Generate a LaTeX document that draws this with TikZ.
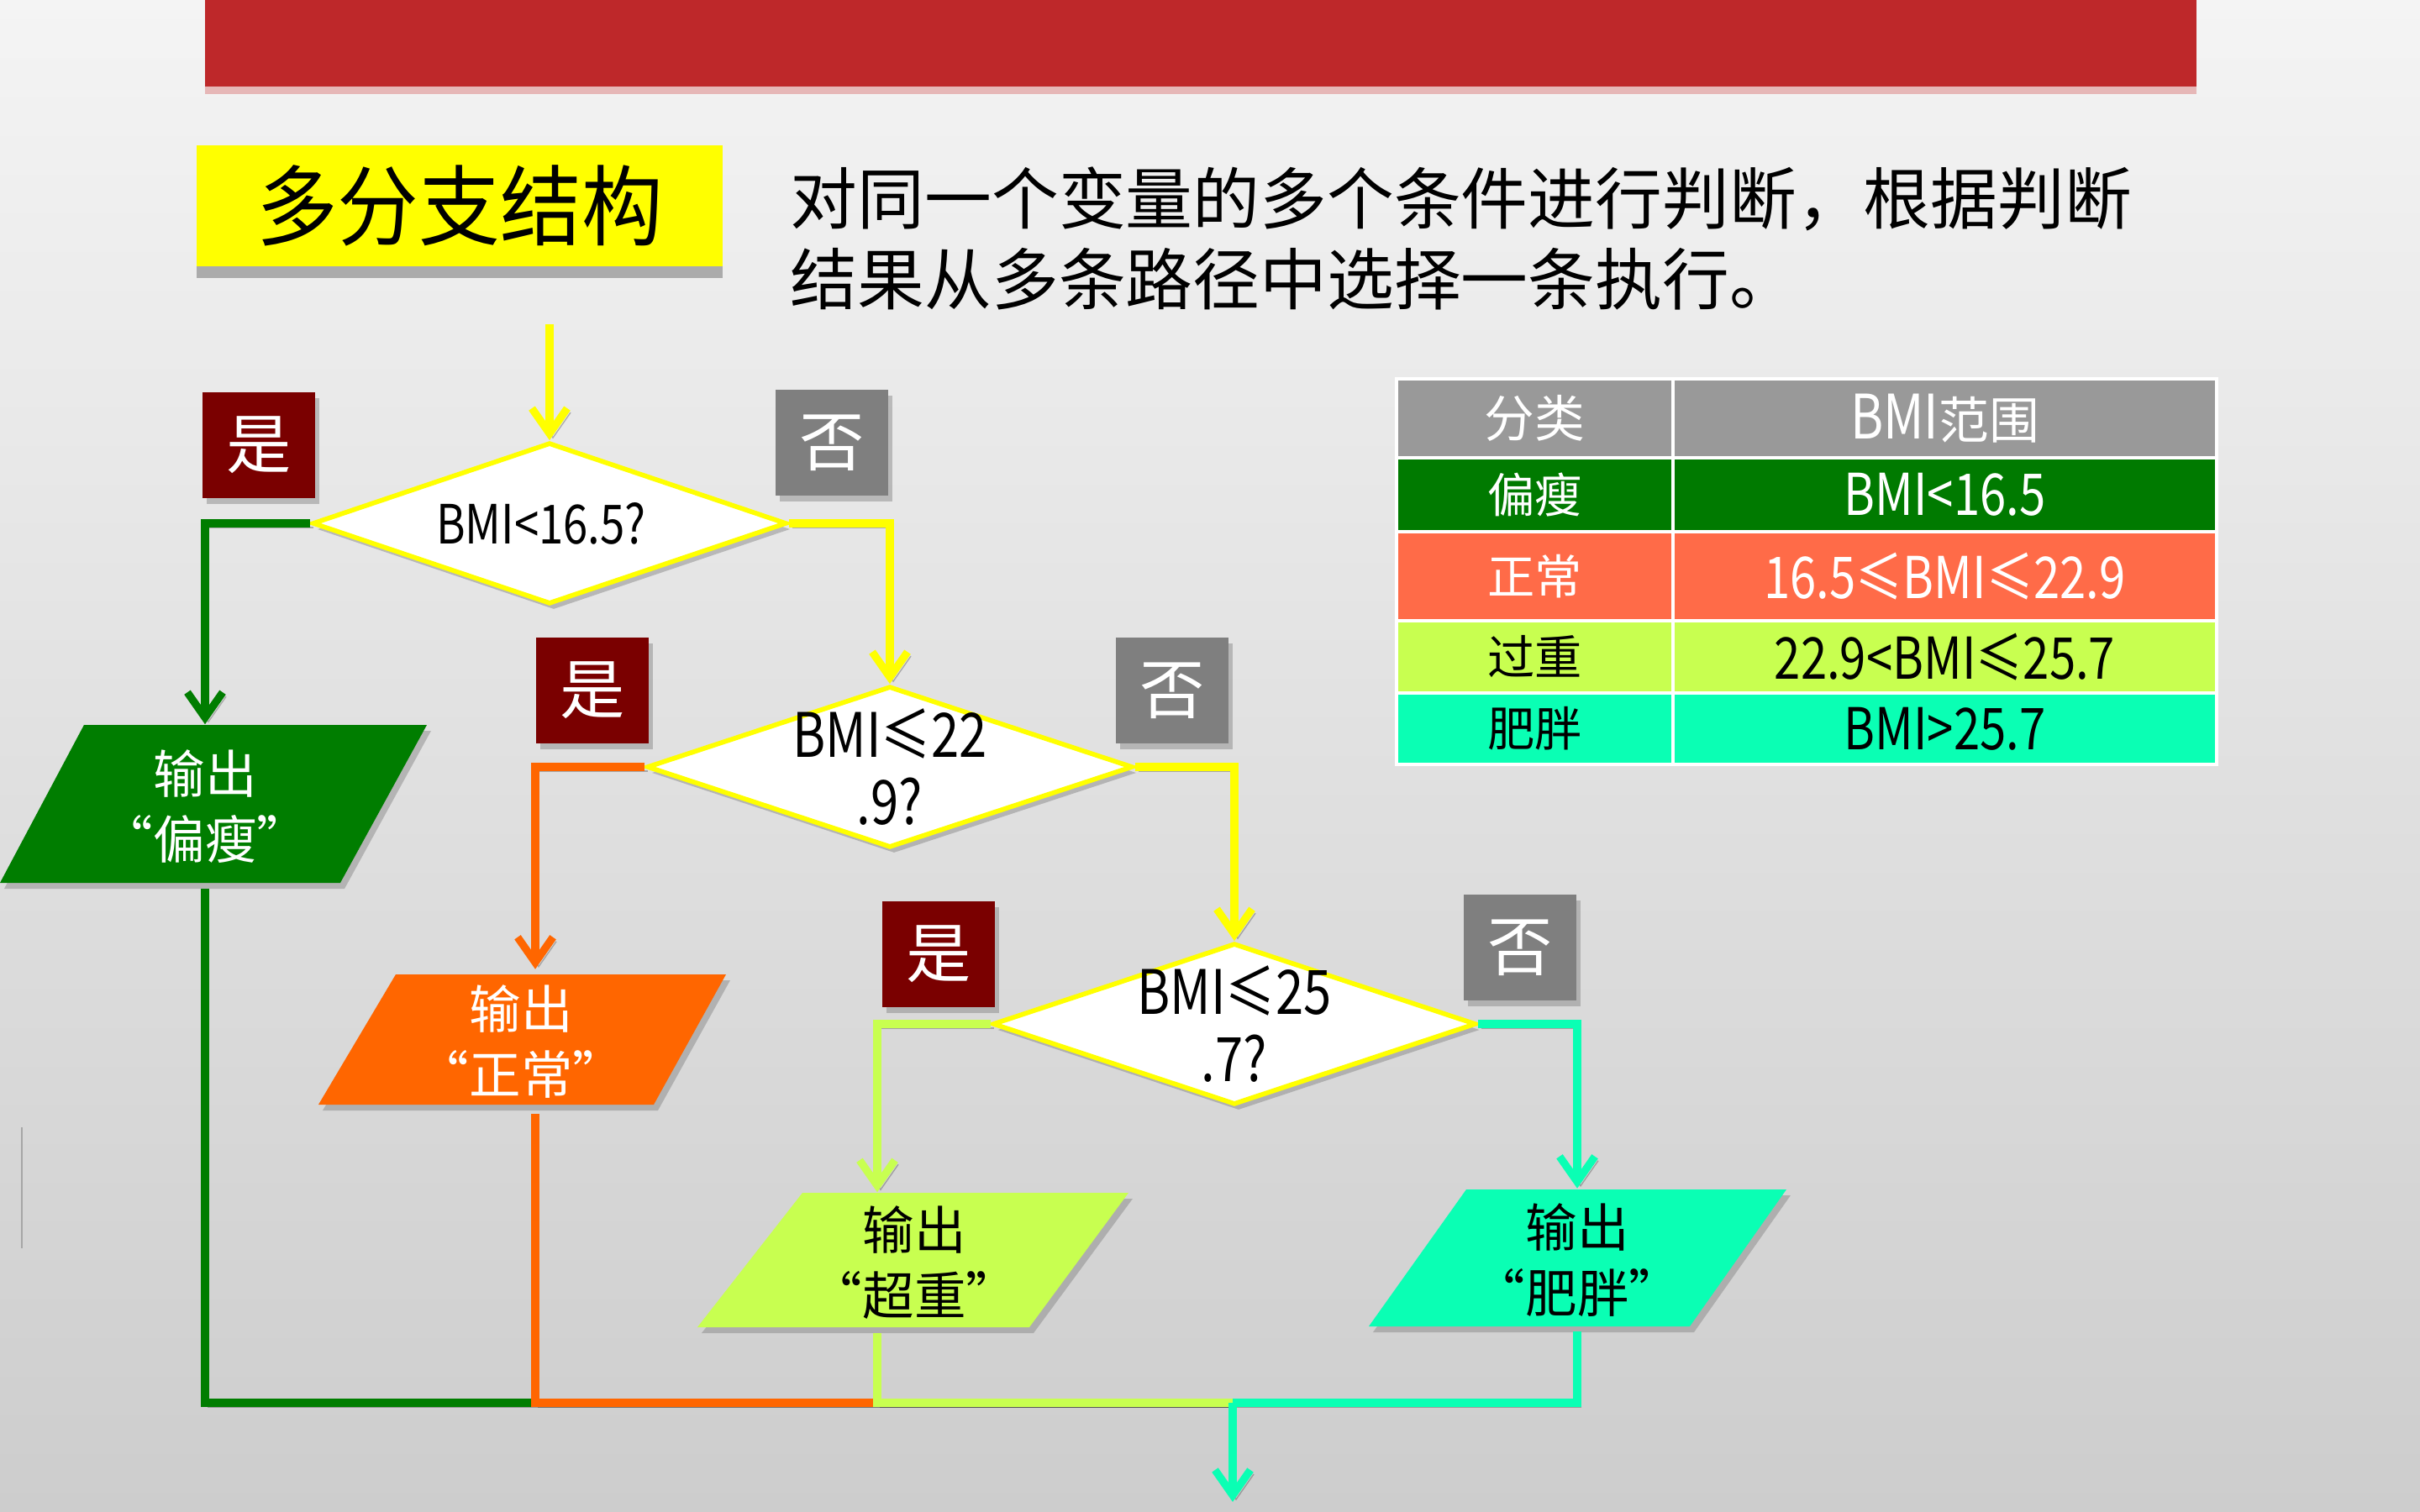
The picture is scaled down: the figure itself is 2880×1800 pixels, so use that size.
\documentclass[tikz,border=0pt]{standalone}
\usepackage{fontspec}
\setmainfont{Noto Sans CJK SC}
\usetikzlibrary{arrows.meta,shapes.geometric,shadows}
\definecolor{rbar}{RGB}{190,40,42}
\definecolor{yl}{RGB}{255,255,0}
\definecolor{grn}{RGB}{0,125,0}
\definecolor{org}{RGB}{255,102,0}
\definecolor{lgr}{RGB}{200,255,80}
\definecolor{aqu}{RGB}{10,255,180}
\definecolor{yesc}{RGB}{122,0,0}
\definecolor{noc}{RGB}{127,127,127}
\definecolor{hdr}{RGB}{153,153,153}
\definecolor{tgrn}{RGB}{0,122,0}
\definecolor{torg}{RGB}{255,107,72}
\definecolor{bgtop}{RGB}{244,244,244}
\definecolor{bgbot}{RGB}{205,205,205}
\newcommand{\tall}[1]{\scalebox{1}[1.22]{#1}}
\begin{document}
\begin{tikzpicture}[x=0.01cm, y=-0.01cm,
  shd/.style={drop shadow={opacity=0.45, shadow xshift=0.05cm, shadow yshift=-0.07cm}},
  conn/.style={line width=2.6pt, preaction={draw=black, opacity=0.25, transform canvas={xshift=0.04cm, yshift=-0.05cm}}},
  arr/.style={-{Straight Barb[length=0.3cm, width=0.42cm]}},
  tag/.style={minimum width=1.34cm, minimum height=1.26cm, inner sep=0pt, text=white, font=\fontsize{22}{26}\selectfont, shd},
  dia/.style={diamond, aspect=3, draw=yl, line width=1.6pt, fill=white, inner sep=0pt, minimum height=1.92cm, shd},
  ptxt/.style={inner sep=0pt, minimum width=2cm, align=center, font=\fontsize{17.5}{22}\selectfont},
  cell/.style={draw=white, line width=1.3pt, inner sep=0pt, font=\fontsize{16}{19}\selectfont},
]
\useasboundingbox (0,0) rectangle (2880,1800);
\shade[top color=bgtop, bottom color=bgbot] (0,0) rectangle (2880,1800);
\draw[gray!70, line width=0.6pt] (26,1342) -- (26,1486);

% red bar
\fill[rbar!45, opacity=0.7] (244,100) rectangle (2614,112);
\fill[rbar] (244,0) rectangle (2614,103);

% title and description
\node[fill=yl, minimum width=6.25cm, minimum height=1.44cm, inner sep=0pt,
      font=\fontsize{27.5}{30}\selectfont,
      drop shadow={opacity=0.6, shadow xshift=0cm, shadow yshift=-0.14cm}] (title) at (547,245) {\scalebox{1}[1.08]{多分支结构}};
\node[anchor=west, align=left, inner sep=0pt, font=\fontsize{22.7}{27.3}\selectfont] (desc) at (940,284)
  {对同一个变量的多个条件进行判断，根据判断\\结果从多条路径中选择一条执行。};

% table
\node[cell, fill=hdr, text=white, minimum width=3.29cm, minimum height=0.94cm, font=\fontsize{17}{20}\selectfont] (h1) at (1826.5,498) {分类};
\node[cell, fill=hdr, text=white, minimum width=6.47cm, minimum height=0.94cm, font=\fontsize{17}{20}\selectfont] (h2) at (2314.5,498) {\tall{BMI}范围};
\node[cell, fill=tgrn, text=white, minimum width=3.29cm, minimum height=0.88cm] (a1) at (1826.5,589) {偏瘦};
\node[cell, fill=tgrn, text=white, minimum width=6.47cm, minimum height=0.88cm] (b1) at (2314.5,589) {\tall{BMI<16.5}};
\node[cell, fill=torg, text=white, minimum width=3.29cm, minimum height=1.06cm] (a2) at (1826.5,686) {正常};
\node[cell, fill=torg, text=white, minimum width=6.47cm, minimum height=1.06cm] (b2) at (2314.5,686) {\tall{16.5≤BMI≤22.9}};
\node[cell, fill=lgr, text=black, minimum width=3.29cm, minimum height=0.86cm] (a3) at (1826.5,782) {过重};
\node[cell, fill=lgr, text=black, minimum width=6.47cm, minimum height=0.86cm] (b3) at (2314.5,782) {\tall{22.9<BMI≤25.7}};
\node[cell, fill=aqu, text=black, minimum width=3.29cm, minimum height=0.85cm] (a4) at (1826.5,867.5) {肥胖};
\node[cell, fill=aqu, text=black, minimum width=6.47cm, minimum height=0.85cm] (b4) at (2314.5,867.5) {\tall{BMI>25.7}};

% decisions
\node[dia, minimum width=5.64cm, label={[font=\fontsize{15}{18}\selectfont, xshift=-0.1cm]center:\tall{BMI<16.5?}}] (d1) at (654,623) {};
\node[dia, minimum width=5.78cm, label={[align=center, font=\fontsize{17}{23}\selectfont]center:\tall{BMI≤22}\\\tall{.9?}}] (d2) at (1059,913) {};
\node[dia, minimum width=5.75cm, label={[align=center, font=\fontsize{17}{23}\selectfont]center:\tall{BMI≤25}\\\tall{.7?}}] (d3) at (1469,1219) {};

% yes / no tags
\node[tag, fill=yesc] (y1) at (308,530) {是};
\node[tag, fill=noc] (n1) at (990,527) {否};
\node[tag, fill=yesc] (y2) at (705,822) {是};
\node[tag, fill=noc] (n2) at (1395,822) {否};
\node[tag, fill=yesc] (y3) at (1117,1136) {是};
\node[tag, fill=noc] (n3) at (1809,1128) {否};

% outputs
\fill[grn, shd] (100,863) -- (508,863) -- (405,1051) -- (0,1051) -- cycle;
\node[ptxt, text=white, minimum height=1.88cm] (p1) at (244,960) {输出\\“偏瘦”};
\fill[org, shd] (471,1160) -- (864,1160) -- (778,1315) -- (379,1315) -- cycle;
\node[ptxt, text=white, minimum height=1.55cm] (p2) at (620,1240) {输出\\“正常”};
\fill[lgr, shd] (955,1420) -- (1343,1420) -- (1225,1580) -- (830,1580) -- cycle;
\node[ptxt, text=black, minimum height=1.6cm] (p3) at (1088,1503) {输出\\“超重”};
\fill[aqu, shd] (1745,1416) -- (2126,1416) -- (2011,1579) -- (1629,1579) -- cycle;
\node[ptxt, text=black, minimum height=1.63cm] (p4) at (1877,1500) {输出\\“肥胖”};

% connectors
\coordinate (start) at (654,386);
\draw[conn, yl, arr] (start) -- (d1.north);
\draw[conn, grn, arr] (d1.west) -| ([yshift=0.03cm]p1.north);
\draw[conn, yl, arr] (d1.east) -| (d2.north);
\draw[conn, org, arr] (d2.west) -| ([xshift=0.17cm, yshift=0.08cm]p2.north);
\draw[conn, yl, arr] (d2.east) -| (d3.north);
\draw[conn, lgr, arr] (d3.west) -| ([xshift=-0.44cm, yshift=0.03cm]p3.north);
\draw[conn, aqu, arr] (d3.east) -| ([yshift=0.03cm]p4.north);

\coordinate (j) at (1467,1670);
\coordinate (out) at (1467,1788);
\draw[conn, grn] ([yshift=-0.03cm]p1.south) |- (j);
\draw[conn, org] ([xshift=0.17cm, yshift=-0.08cm]p2.south) |- (j);
\draw[conn, lgr] ([xshift=-0.44cm, yshift=-0.03cm]p3.south) |- (j);
\draw[conn, aqu] ([yshift=-0.03cm]p4.south) |- (j);
\draw[conn, aqu, arr] (j) -- (out);
\end{tikzpicture}
\end{document}
